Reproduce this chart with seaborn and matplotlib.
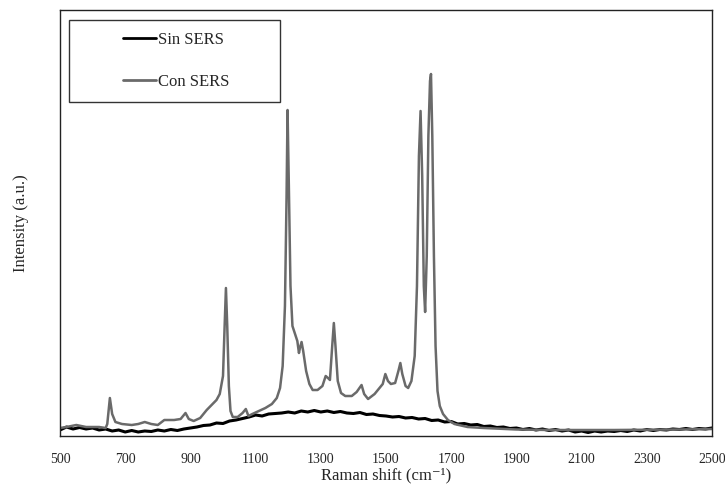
import numpy as np
import pandas as pd
import matplotlib
matplotlib.use("Agg")
import matplotlib.pyplot as plt
from matplotlib.patches import Rectangle
from matplotlib.lines import Line2D
import seaborn as sns

# ---- data (intensity in arbitrary units) ----
sin_shift = list(range(500, 2501, 20))
sin_int = [6, 9, 7, 8.5, 7, 8, 6, 7, 5, 6,
           4, 5.5, 4, 5, 4.5, 6, 5, 6.5, 5.5, 7,
           8, 9, 10.5, 11, 13, 12.5, 15, 16, 17.5, 19,
           21, 20, 22, 22.5, 23, 24, 23, 25, 24, 25.5,
           24, 25, 23.5, 24.5, 23, 22.5, 23.5, 21.5, 22, 20.5,
           20, 19, 19.5, 18, 18.5, 17, 17.5, 15.5, 16, 14,
           14.5, 12, 12.5, 11, 11.5, 9.5, 10, 8.5, 9, 7.5,
           8, 6.5, 7.5, 6, 7, 5.5, 6.5, 5, 6, 4,
           5, 3.5, 5, 4, 5, 4.5, 5.5, 4.5, 6, 5,
           6.5, 5.5, 6.5, 6, 7, 6.5, 7.5, 6.5, 7.5, 7,
           8]

con_shift = [500, 520, 550, 580, 620, 640, 645, 653, 660, 670, 690, 720, 740, 760, 780,
             800, 820, 850, 870, 885, 895, 910, 930, 950, 965, 980, 990, 1000, 1005, 1009,
             1013, 1018, 1023, 1030, 1045, 1060, 1070, 1078, 1090, 1110, 1130, 1150, 1165,
             1175, 1183, 1190, 1195, 1198, 1202, 1207, 1213, 1222, 1228, 1233, 1236, 1241,
             1246, 1255, 1265, 1275, 1290, 1305, 1315, 1322, 1328, 1335, 1340, 1345, 1352,
             1362, 1375, 1395, 1410, 1425, 1433, 1445, 1465, 1480, 1490, 1498, 1506, 1515,
             1528, 1538, 1544, 1550, 1560, 1568, 1578, 1588, 1595, 1601, 1606, 1611, 1616,
             1620, 1625, 1630, 1635, 1638, 1642, 1647, 1652, 1658, 1665, 1675, 1690, 1710,
             1750, 1800, 1900, 2000, 2200, 2400, 2500]
con_int = [8, 9, 11, 9, 9, 8, 12, 38, 22, 14, 12, 11, 12, 14, 12,
           11, 16, 16, 17, 23, 17, 15, 18, 26, 31, 36, 42, 60, 110, 148,
           110, 50, 25, 19, 19, 23, 27, 20, 22, 25, 28, 32, 38,
           48, 70, 130, 240, 326, 250, 150, 110, 101, 95, 83, 88, 94,
           85, 65, 52, 46, 46, 50, 60, 58, 56, 90, 113, 90, 55,
           43, 40, 40, 44, 51, 42, 37, 42, 48, 52, 62, 55, 52,
           53, 65, 73, 62, 50, 48, 55, 80, 150, 280, 325, 260, 150,
           124, 180, 300, 355, 362, 300, 180, 90, 45, 30, 22, 16, 12,
           9, 8, 6.5, 6, 6, 6.5, 7]

series_names = ["Sin SERS", "Con SERS"]
x_ticks = [500, 700, 900, 1100, 1300, 1500, 1700, 1900, 2100, 2300, 2500]

df = pd.concat([
    pd.DataFrame({"shift": sin_shift, "intensity": sin_int, "serie": series_names[0]}),
    pd.DataFrame({"shift": con_shift, "intensity": con_int, "serie": series_names[1]}),
], ignore_index=True)

sns.set_style("white")
plt.rcParams["font.family"] = ["Liberation Serif", "DejaVu Serif"]

colors = {"Sin SERS": "#000000", "Con SERS": "#6a6a6a"}
widths = {"Sin SERS": 2.2, "Con SERS": 1.8}

fig = plt.figure(figsize=(7.25, 4.88), dpi=100)
ax = fig.add_axes([60 / 725, 1 - 436 / 488, 652 / 725, 426 / 488])

for name in ["Sin SERS", "Con SERS"]:
    sub = df[df["serie"] == name]
    sns.lineplot(data=sub, x="shift", y="intensity", ax=ax, color=colors[name],
                 linewidth=widths[name], sort=False, estimator=None, legend=False)

ax.set_xlim(500, 2500)
ax.set_ylim(0, 426)
ax.set_xticks(x_ticks)
ax.set_xticklabels([str(t) for t in x_ticks], fontsize=10)
ax.set_yticks([])
ax.tick_params(axis="x", direction="in", length=6, width=1, color="#222222", pad=12)
for s in ax.spines.values():
    s.set_color("#222222")
    s.set_linewidth(1)
ax.set_xlabel("Raman shift (cm⁻¹)", fontsize=12, labelpad=1)
ax.set_ylabel("Intensity (a.u.)", fontsize=12, labelpad=22)

# legend box
fig.add_artist(Rectangle((69 / 725, 1 - 102 / 488), 211 / 725, 82 / 488,
                         transform=fig.transFigure, facecolor="white",
                         edgecolor="#333333", linewidth=1, zorder=5))
handles = [Line2D([], [], color=colors[n], linewidth=2) for n in series_names]
leg = fig.legend(handles, series_names, loc="center",
                 bbox_to_anchor=(176 / 725, 1 - 61 / 488), bbox_transform=fig.transFigure,
                 frameon=False, fontsize=12, handlelength=2.0, handletextpad=0.1,
                 labelspacing=1.55, borderpad=0)
leg.set_zorder(6)

fig.savefig("out.png", dpi=100)
